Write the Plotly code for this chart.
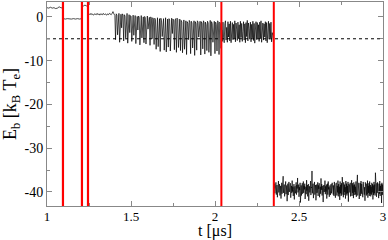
import numpy as np
import plotly.graph_objects as go

# ---- data ----
seg_times = [(1.000, 1.093), (1.097, 1.206), (1.210, 1.242), (1.246, 1.398),
             (1.400, 2.036), (2.040, 2.348), (2.352, 3.000)]

seg1 = [2.1, 2.0, 2.2, 2.0, 2.1, 1.9, 2.0, 2.3, 2.1, 2.0]
seg2 = [-0.4, -0.5, -0.4, -0.5, -0.5, -0.4, -0.5, -0.4, -0.5, -0.4]
seg3 = [2.6, 2.5, 2.7, 2.5, 2.6]
seg4 = [0.4, 0.7, 0.5, 0.8, 0.5, 0.6, 0.4, 0.7, 0.6, 0.5, 0.8, 0.5, 0.7, 0.4, 0.7,
        0.6, 0.5, 0.8, 0.5, 0.7, 0.6, 0.4, 0.7, 0.5, 0.8, 0.6, 0.5, 0.8, 1.2, 0.7]
seg5 = [0.6, 0.3, -5.2, 0.7, 0.4, -4.1, 0.5, 0.8, -5.8, 0.3, 0.6, -2.5, 0.7, 0.4, -5.5,
        0.5, 0.2, -4.8, 0.6, 0.8, -6.0, 0.4, 0.5, -3.6,
        0.3, 0.1, -5.6, 0.2, 0.4, -4.2, 0.0, 0.3, -6.1, -0.2, 0.1, -3.0, 0.2, -0.1, -6.4,
        0.0, 0.3, -4.8, -0.3, 0.0, -5.9, 0.1, -0.2, -6.2, -0.1, 0.2, -2.8, -0.4, -0.1, -6.5,
        0.0, -0.3, -5.0, -0.2, -0.5, -6.3,
        -0.3, -0.6, -7.4, -0.5, -0.2, -6.8, -0.7, -0.4, -7.9, -0.3, -0.9, -4.5, -0.6, -0.4,
        -7.6, -0.5, -0.2, -8.0, -0.8, -0.5, -6.9, -0.4, -0.7, -7.8, -0.6, -0.3, -3.8, -0.5,
        -0.9, -7.5, -0.7, -0.4, -8.1, -0.3, -0.6, -7.0, -0.9, -0.5, -7.7,
        -0.8, -1.2, -8.2, -1.0, -0.7, -7.4, -1.3, -0.9, -8.6, -1.1, -1.5, -5.2, -0.8, -1.2,
        -8.4, -1.0, -1.4, -7.1, -1.3, -0.9, -8.8, -1.1, -1.6, -7.6, -0.9, -1.2, -4.6, -1.4,
        -1.0, -8.7, -1.1, -1.5, -7.3, -0.9, -1.3, -8.5, -1.2, -1.8, -7.7, -1.0, -1.4, -8.1,
        -1.3, -0.8, -8.9, -1.1, -1.6, -5.8, -1.4, -1.0, -8.4, -1.2, -1.7, -7.8, -0.9, -1.3,
        -8.6, -1.2, -1.5, -7.2]
seg6 = [-3.0, -5.6, -1.2, -4.8, -5.9, -1.5, -0.9, -5.3, -2.4, -5.8,
        -1.1, -4.6, -1.6, -5.5, -1.0, -5.9, -3.1, -1.3, -5.2, -1.7,
        -4.9, -0.9, -5.7, -1.4, -2.8, -5.4, -1.2, -5.0, -1.8, -5.8,
        -1.0, -4.7, -1.5, -5.6, -3.3, -1.1, -5.3, -1.6, -5.9, -1.3,
        -4.5, -0.8, -5.5, -1.4, -2.6, -5.1, -1.2, -5.7, -1.7, -4.8,
        -1.0, -5.4, -1.5, -6.0, -3.0, -1.1, -5.2, -1.3, -4.9, -1.8,
        -5.6, -1.2, -5.0, -0.9, -5.8, -2.9, -1.4, -5.3, -1.6, -4.6,
        -1.1, -5.5, -1.3, -5.9, -3.4, -1.0, -5.1, -1.5, -4.8, -1.2,
        -5.7, -3.6, -4.2, -5.5]
seg7 = [-39.2, -38.1, -40.3, -38.7, -39.9, -37.8, -40.6, -39.0, -38.4, -41.2, -38.9, -39.6, -37.5, -40.1, -39.3, -38.2, -40.8, -39.5, -38.6, -41.5,
        -39.1, -37.9, -40.4, -38.8, -39.7, -36.4, -40.2, -39.4, -38.3, -41.0, -38.7, -39.8, -37.6, -40.5, -39.2, -38.5, -42.1, -39.0, -38.1, -40.7,
        -39.6, -37.7, -40.0, -38.9, -39.3, -38.0, -41.3, -39.1, -38.6, -40.2, -37.4, -39.9, -38.8, -40.9, -39.4, -38.2, -41.7, -39.0, -38.7, -40.3,
        -39.5, -37.8, -40.6, -38.4, -39.2, -36.8, -40.1, -39.7, -38.3, -41.1, -38.9, -39.6, -37.9, -42.4, -39.3, -38.5, -40.8, -39.1, -38.0, -40.4,
        -39.8, -37.6, -40.2, -38.6, -39.4, -38.1, -41.6, -39.0, -38.8, -40.5, -37.3, -39.7, -38.4, -41.0, -39.2, -38.2, -42.0, -39.5, -38.7, -40.1,
        -39.3, -37.5, -40.7, -38.9, -39.1, -35.2, -40.3, -39.6, -38.1, -41.4, -38.6, -39.8, -37.7, -40.6, -39.0, -38.4, -41.9, -39.4, -38.3, -40.2,
        -39.7, -37.8, -40.9, -38.5, -39.3, -38.0, -41.2, -39.1, -38.8, -40.4, -36.9, -39.5, -38.2, -40.8, -39.6, -38.6, -42.3, -39.0, -38.4, -40.0,
        -39.2, -37.4, -40.5, -38.7, -39.9, -38.3, -41.5, -39.3, -38.1, -40.6, -37.6, -39.4, -38.9, -41.1, -39.0, -38.5, -40.7, -39.6, -38.2, -40.3,
        -39.1, -37.9, -40.4,
        -38.0, -40.6, -38.5, -40.9, -37.7, -40.2, -38.3, -41.3, -38.1, -40.5,
        -37.9, -40.8, -38.6, -40.1, -37.4, -41.0, -38.2, -40.4, -38.8, -41.8,
        -37.6, -40.3, -38.4, -40.9, -38.0, -40.6, -36.6, -40.2, -38.5, -41.2,
        -37.8, -40.7, -38.3, -40.0, -38.9, -41.5, -37.5, -40.4, -38.1, -40.8,
        -38.6, -40.3, -37.7, -42.2, -38.2, -40.6, -38.4, -40.1, -37.9, -41.0,
        -38.7, -40.5, -37.3, -40.9, -38.0, -40.2, -38.5, -41.4, -37.8, -40.7,
        -38.3, -40.0, -38.8, -40.6, -37.6, -41.1, -38.1, -40.3, -36.1, -40.8,
        -38.4, -40.5, -37.9, -41.6, -38.6, -40.2, -38.0, -40.9, -37.5, -40.4,
        -38.2, -40.7, -38.7, -41.2, -37.7, -40.1, -38.3, -40.6, -38.9, -42.0,
        -37.8, -40.3, -38.5, -40.8, -38.1, -40.5, -37.4, -41.3, -38.6, -40.2,
        -38.0, -40.9, -37.6, -40.4, -38.4, -41.0, -38.8, -40.6, -37.9, -40.1,
        -38.2, -41.7, -38.5, -40.7, -37.7, -40.3, -38.3, -40.8, -35.6, -40.5,
        -38.7, -41.1, -38.0, -40.2, -37.8, -40.6, -38.4, -41.4, -38.1, -40.4,
        -37.5, -40.9, -38.6, -40.0, -38.2, -42.5, -37.9, -40.7, -38.3, -40.5]
segments = [seg1, seg2, seg3, seg4, seg5, seg6, seg7]

event_times_double = [1.095, 1.208, 1.244]
event_times_single = [2.038, 2.350]
double_gap = 0.006
reference_level = -5.0

x_ticks = [1, 1.5, 2, 2.5, 3]
x_labels = ["1", "1.5", "2", "2.5", "3"]
y_ticks = [0, -10, -20, -30, -40]
y_labels = ["0", "-10", "-20", "-30", "-40"]

# ---- build trace ----
t_all, e_all = [], []
for (t0, t1), vals in zip(seg_times, segments):
    t_all.extend(np.linspace(t0, t1, len(vals)).tolist())
    e_all.extend(vals)

fig = go.Figure()
fig.add_trace(go.Scatter(x=t_all, y=e_all, mode="lines",
                         line=dict(color="black", width=0.7), hoverinfo="skip"))
fig.add_trace(go.Scatter(x=[1, 3], y=[reference_level, reference_level], mode="lines",
                         line=dict(color="black", width=1, dash="dot"), hoverinfo="skip"))

shapes = []
for tx in event_times_double:
    for off in (-double_gap / 2, double_gap / 2):
        shapes.append(dict(type="line", xref="x", yref="paper", x0=tx + off, x1=tx + off,
                           y0=0, y1=1, line=dict(color="#ff0000", width=1.2), layer="above"))
for tx in event_times_single:
    shapes.append(dict(type="line", xref="x", yref="paper", x0=tx, x1=tx, y0=0, y1=1,
                       line=dict(color="#ff0000", width=2), layer="above"))

font = "Liberation Serif, Times New Roman, serif"
axis_common = dict(ticks="inside", ticklen=5, tickcolor="#888888", tickwidth=1,
                   showline=True, linecolor="#888888", linewidth=1, mirror="ticks",
                   showgrid=False, zeroline=False, automargin=False)
fig.update_layout(
    width=388, height=240,
    margin=dict(l=47, r=5, t=2, b=34),
    paper_bgcolor="white", plot_bgcolor="white",
    showlegend=False,
    shapes=shapes,
    font=dict(family=font, size=14, color="black"),
    xaxis=dict(range=[1, 3], tickvals=x_ticks, ticktext=x_labels, ticklabelstandoff=-2,
               minor=dict(dtick=0.25, ticks="inside", ticklen=3, tickcolor="#888888"),
               title=dict(text="t [μs]", font=dict(family=font, size=16), standoff=3),
               tickfont=dict(family=font, size=13, color="black"),
               **axis_common),
    yaxis=dict(range=[-43.2, 3.4], tickvals=y_ticks, ticktext=y_labels,
               minor=dict(dtick=5, ticks="inside", ticklen=3, tickcolor="#888888"),
               title=dict(text="E<sub>b</sub> [k<sub>B</sub> T<sub>e</sub>]",
                          font=dict(family=font, size=18), standoff=3),
               tickfont=dict(family=font, size=14, color="black"),
               **axis_common),
)

fig.write_html("out.html", config={"displayModeBar": False},
               post_script="document.body.style.margin='0';")
